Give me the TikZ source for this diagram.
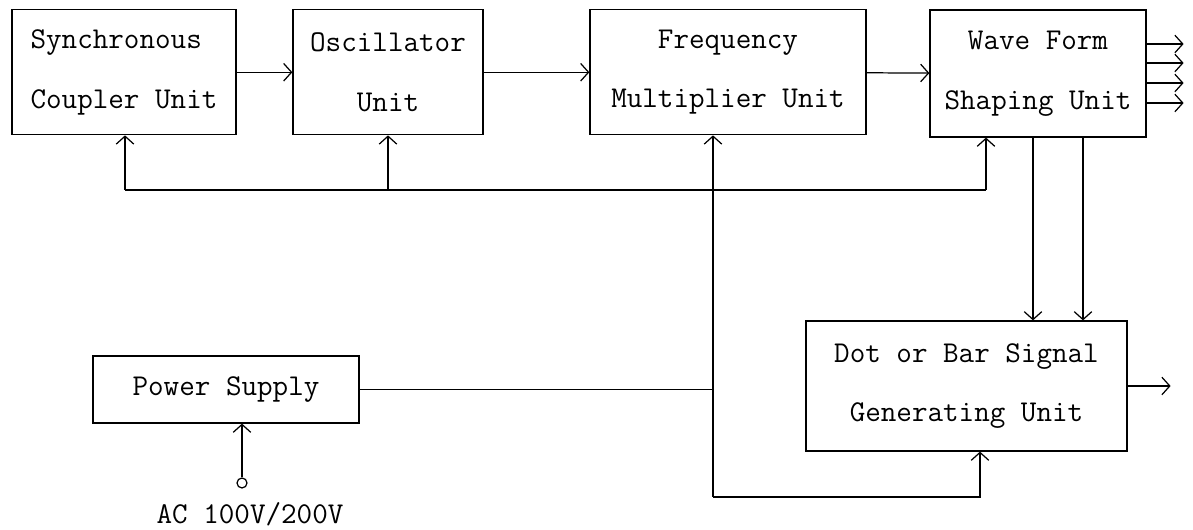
\documentclass[tikz,border=0pt]{standalone}
\usepackage{fontspec}
\usetikzlibrary{arrows.meta}
\tikzset{
  unit/.style={draw, line width=0.7pt, align=center, inner sep=0pt,
    font=\fontsize{17.2}{34}\selectfont\ttfamily},
  wire/.style={line width=0.7pt},
}
\begin{document}
\begin{tikzpicture}[>={Straight Barb[length=4.5pt,width=10pt]}]
  \useasboundingbox (0,0) rectangle (23.86,10.6);
  % blocks
  \node[unit, align=left, minimum width=4.48cm, minimum height=2.5cm] (sync) at (2.48,9.155) {Synchronous\\Coupler Unit};
  \node[unit, minimum width=3.8cm, minimum height=2.5cm] (osc) at (7.76,9.155) {Oscillator\\Unit};
  \node[unit, minimum width=5.52cm, minimum height=2.5cm] (freq) at (14.56,9.155) {Frequency\\Multiplier Unit};
  \node[unit, minimum width=4.32cm, minimum height=2.54cm] (wave) at (20.76,9.13) {Wave Form\\Shaping Unit};
  \node[unit, minimum width=6.42cm, minimum height=2.6cm] (dot) at (19.33,2.88) {Dot or Bar Signal\\Generating Unit};
  \node[unit, minimum width=5.32cm, minimum height=1.34cm] (ps) at (4.52,2.81) {Power Supply};
  \node[circle, draw, line width=0.7pt, inner sep=0pt, minimum size=0.2cm] (ac) at (4.84,0.94) {};
  \node[font=\fontsize{17.2}{20}\selectfont\ttfamily] (aclabel) at (5.0,0.32) {AC 100V/200V};
  % signal path
  \draw[wire,->] (sync) -- (osc);
  \draw[wire,->] (osc) -- (freq);
  \draw[wire,->] (freq) -- (wave);
  \foreach \dy in {0.59,0.21,-0.19,-0.59}
    \draw[wire,->] ([yshift=\dy cm]wave.east) -- +(0.74,0);
  \draw[wire,->] ([xshift=-0.1cm]wave.south) -- ([xshift=-0.1cm]wave.south |- dot.north);
  \draw[wire,->] ([xshift=0.9cm]wave.south) -- ([xshift=0.9cm]wave.south |- dot.north);
  \draw[wire,->] (dot.east) -- +(0.86,0);
  % supply lines
  \coordinate (busL) at (2.5,6.8);
  \coordinate (busR) at (19.72,6.8);
  \coordinate (feed) at (14.26,0.66);
  \draw[wire] (busL) -- (busR);
  \draw[wire,->] (busL) -- (busL |- sync.south);
  \draw[wire,->] (osc.south |- busL) -- (osc.south);
  \draw[wire,->] (busR) -- (busR |- wave.south);
  \draw[wire,->] (feed) -- (feed |- freq.south);
  \draw[wire] (ps.east) -- (ps.east -| feed);
  \draw[wire,->] (feed) -| ([xshift=0.27cm]dot.south);
  \draw[wire,->] (ac) -- (ac |- ps.south);
\end{tikzpicture}
\end{document}
